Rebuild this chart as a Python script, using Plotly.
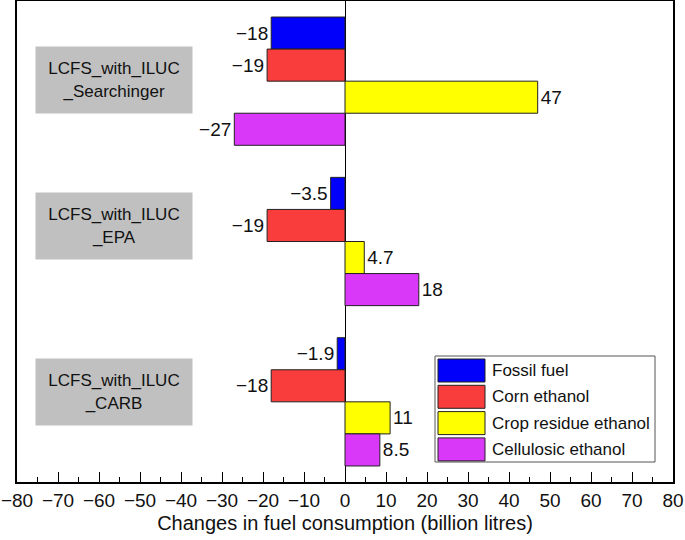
import plotly.graph_objects as go

# Scenario groups (top to bottom) and fuel series
SCENARIOS = ["LCFS_with_ILUC_Searchinger", "LCFS_with_ILUC_EPA", "LCFS_with_ILUC_CARB"]
SCENARIO_LABELS = ["LCFS_with_ILUC<br>_Searchinger", "LCFS_with_ILUC<br>_EPA", "LCFS_with_ILUC<br>_CARB"]

FUELS = ["Fossil fuel", "Corn ethanol", "Crop residue ethanol", "Cellulosic ethanol"]
FOSSIL = [-18, -3.5, -1.9]
CORN = [-19, -19, -18]
CROP_RESIDUE = [47, 4.7, 11]
CELLULOSIC = [-27, 18, 8.5]

COLORS = {
    "Fossil fuel": "#0000fb",
    "Corn ethanol": "#f93d3d",
    "Crop residue ethanol": "#ffff00",
    "Cellulosic ethanol": "#da38f8",
}
FONT = "Liberation Sans, Arial, Helvetica, sans-serif"

# plot area in pixels (for placing the hand-drawn legend)
W, H = 685, 540
M = dict(l=17, r=12, t=1, b=58, autoexpand=False)
PW = W - M["l"] - M["r"]
PH = H - M["t"] - M["b"]


def px(x):
    return (x - M["l"]) / PW


def py(y):
    return 1 - (y - M["t"]) / PH


def fmt(v):
    return f"{v:g}".replace("-", "\u2212")


fig = go.Figure()
for name, vals in zip(FUELS, [FOSSIL, CORN, CROP_RESIDUE, CELLULOSIC]):
    fig.add_trace(go.Bar(
        y=SCENARIOS, x=vals, name=name, orientation="h",
        marker=dict(color=COLORS[name], line=dict(color="#222222", width=1)),
        text=[fmt(v) for v in vals], textposition="outside",
        textfont=dict(size=19, color="#111111"), cliponaxis=False,
        showlegend=False,
    ))

# grey scenario label boxes
shifts = [1, 16, 10]
for cat, lab, sh in zip(SCENARIOS, SCENARIO_LABELS, shifts):
    fig.add_annotation(
        x=-56.3, y=cat, xref="x", yref="y", text=lab, showarrow=False,
        bgcolor="#c0c0c0", width=150, height=60, borderpad=3,
        font=dict(size=17, color="#111111", family=FONT), align="center",
        yshift=sh,
    )

# legend box drawn by hand (large swatches like the original)
fig.add_shape(type="rect", xref="paper", yref="paper",
              x0=px(435), x1=px(655), y0=py(462), y1=py(356),
              line=dict(color="#555555", width=1), fillcolor="white")
for i, name in enumerate(FUELS):
    top = 359 + i * 26.3
    fig.add_shape(type="rect", xref="paper", yref="paper",
                  x0=px(438), x1=px(485), y0=py(top + 23), y1=py(top),
                  line=dict(color="#222222", width=1), fillcolor=COLORS[name])
    fig.add_annotation(x=px(490), y=py(top + 11.5), xref="paper", yref="paper",
                       text=name, showarrow=False, xanchor="left", yanchor="middle",
                       font=dict(size=17, color="#111111", family=FONT))

fig.update_layout(
    width=W, height=H, margin=M,
    barmode="group", bargap=0.2, bargroupgap=0,
    plot_bgcolor="white", paper_bgcolor="white",
    font=dict(family=FONT, color="#111111", size=19),
)
fig.update_xaxes(
    range=[-80, 80], dtick=10, tick0=0, ticks="inside", ticklen=10, tickwidth=1,
    tickcolor="black", minor=dict(ticks="inside", ticklen=5, dtick=5, tickcolor="black"),
    showline=True, linecolor="black", linewidth=1.5, mirror=True,
    showgrid=False, zeroline=True, zerolinecolor="black", zerolinewidth=1,
    tickfont=dict(size=19), title=dict(text="Changes in fuel consumption (billion litres)",
                                       font=dict(size=20), standoff=6),
)
fig.update_yaxes(
    autorange="reversed", showticklabels=False, ticks="", showgrid=False,
    showline=True, linecolor="black", linewidth=1.5, mirror=True,
)

# drop the page's default body margin so the figure sits at the window's corner
fig.write_html(
    "out.html",
    config={"displayModeBar": False},
    post_script="document.body.style.margin='0';document.body.style.overflow='hidden';",
)
